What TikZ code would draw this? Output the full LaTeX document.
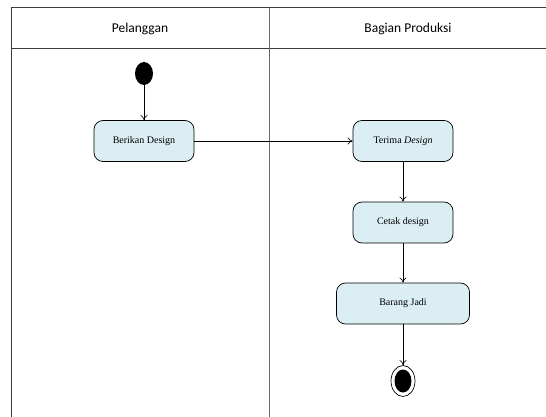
\documentclass[tikz,border=0pt]{standalone}
\usepackage{fontspec}
\setmainfont{Liberation Serif}
\newfontfamily\headfont{Carlito}
\usetikzlibrary{arrows.meta,shapes.geometric}
\definecolor{actfill}{HTML}{DAEEF3}
\definecolor{framecol}{HTML}{3A3A3A}
\begin{document}
\begin{tikzpicture}[x=1pt,y=-1pt,
  act/.style={draw=black,fill=actfill,rounded corners=9pt,minimum height=41pt,font=\fontsize{10}{12}\selectfont,inner sep=2pt,line width=0.7pt},
  flow/.style={draw=black,line width=0.6pt,-{To[length=5pt,width=7pt]}},
  lane/.style={draw=framecol,line width=1pt},
  head/.style={font=\headfont\fontsize{13.5}{15}\selectfont}]
\useasboundingbox (0,0) rectangle (546,417);
% frame
\draw[lane] (546,8) -- (11,8) -- (11,417);
\draw[lane] (11,49) -- (546,49);
\draw[draw=gray!80!black,line width=1pt] (269,8) -- (269,417);
\node[head] (h1) at (140,28.5) {Pelanggan};
\node[head] (h2) at (408,28.5) {Bagian Produksi};
% start
\node[ellipse,fill=black,minimum width=18pt,minimum height=23pt,inner sep=0pt] (start) at (144,73.5) {};
% activities
\node[act,minimum width=100pt] (a1) at (144,141) {Berikan Design};
\node[act,minimum width=100pt] (a2) at (403,141) {Terima \textit{Design}};
\node[act,minimum width=100pt] (a3) at (403,222.5) {Cetak design};
\node[act,minimum width=133pt] (a4) at (403,303.5) {Barang Jadi};
% end
\node[ellipse,draw=black,fill=white,line width=0.7pt,minimum width=24pt,minimum height=31pt,inner sep=0pt] (endo) at (403,381) {};
\node[ellipse,fill=black,minimum width=17pt,minimum height=23pt,inner sep=0pt] (endi) at (endo.center) {};
% flows
\draw[flow] (start) -- (a1);
\draw[flow] (a1) -- (a2);
\draw[flow] (a2) -- (a3);
\draw[flow] (a3) -- (a4);
\draw[flow] (a4) -- (endo);
\end{tikzpicture}
\end{document}
